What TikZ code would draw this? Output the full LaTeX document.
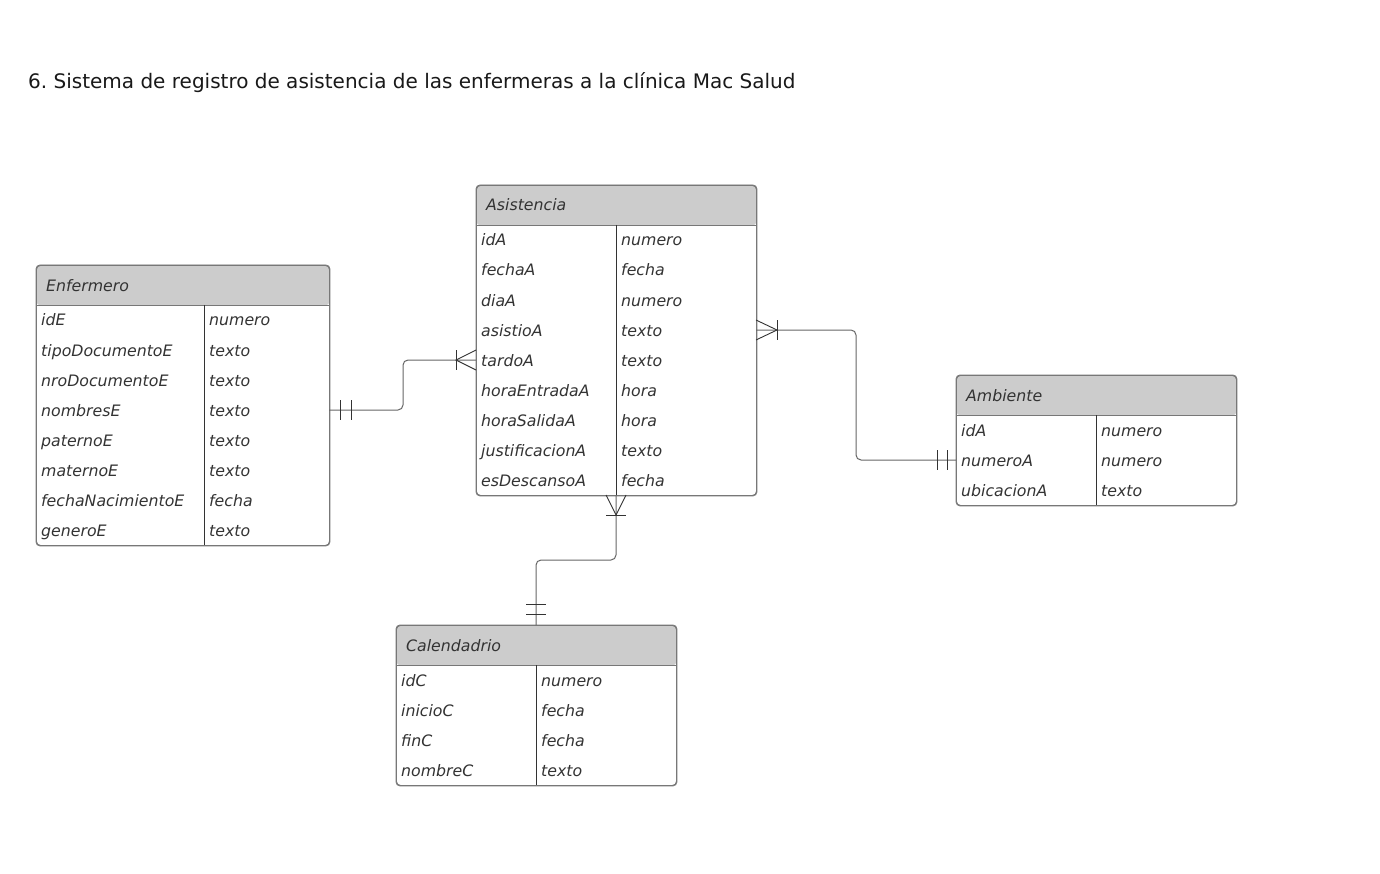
\documentclass[tikz,border=0pt]{standalone}
\usepackage{fontspec}
\setmainfont{DejaVu Sans}
\frenchspacing
\definecolor{bordc}{HTML}{777777}
\definecolor{divc}{HTML}{333333}
\definecolor{hdrc}{HTML}{CCCCCC}
\definecolor{txtc}{HTML}{333333}
\definecolor{connc}{HTML}{666666}
\definecolor{markc}{HTML}{333333}
\newcommand\ertable[8]{%
  \pgfmathsetmacro\tblh{40+30*#8}%
  \node[tbl, minimum width=#4pt, minimum height=\tblh pt,
    path picture={\fill[hdrc] (path picture bounding box.north west) rectangle ([yshift=-40pt]path picture bounding box.north east);}] (#1) at (#2,#3) {};
  \draw[bordc, line width=0.9pt] ([yshift=-40pt]#1.north west) -- ([yshift=-40pt]#1.north east);
  \draw[divc, line width=0.9pt] (#2+#5,#3+40) -- (#2+#5,#3+\tblh);
  \draw[tbl, fill=none] (#1.north west) rectangle (#1.south east);
  \node[hdrtxt] (#1-t) at (#2+10,#3+26) {#6};
  \foreach \f/\t [count=\i] in {#7} {
    \node[fld] (#1-f\i) at (#2+5,#3+31+30*\i) {\f};
    \node[fld] (#1-v\i) at (#2+#5+5,#3+31+30*\i) {\t};
  }%
}
\begin{document}
\begin{tikzpicture}[x=1pt,y=-1pt,
  tbl/.style={draw=bordc, line width=0.9pt, rounded corners=4pt, fill=white, inner sep=0pt, anchor=north west},
  hdrtxt/.style={anchor=base west, font=\fontsize{15.75}{19}\selectfont\itshape, text=txtc, inner sep=0pt},
  fld/.style={anchor=base west, font=\fontsize{15.75}{19}\selectfont\itshape, text=txtc, inner sep=0pt},
  conn/.style={draw=connc, line width=1pt, rounded corners=5pt},
  crow/.style={draw=markc, line width=0.9pt},
  titletxt/.style={anchor=base west, font=\fontsize{20}{24}\selectfont, text=black!90, inner sep=0pt}]
\useasboundingbox (0,0) rectangle (1380,874);
\fill[white] (0,0) rectangle (1380,874);
\node[titletxt] (title) at (28,89) {6. Sistema de registro de asistencia de las enfermeras a la clínica Mac Salud};

\ertable{enf}{36}{265}{293}{168}{Enfermero}{idE/numero,tipoDocumentoE/texto,nroDocumentoE/texto,nombresE/texto,paternoE/texto,maternoE/texto,fechaNacimientoE/fecha,generoE/texto}{8}
\ertable{asi}{476}{185}{280}{140}{Asistencia}{idA/numero,fechaA/fecha,diaA/numero,asistioA/texto,tardoA/texto,horaEntradaA/hora,horaSalidaA/hora,justificacionA/texto,esDescansoA/fecha}{9}
\ertable{amb}{956}{375}{280}{140}{Ambiente}{idA/numero,numeroA/numero,ubicacionA/texto}{3}
\ertable{cal}{396}{625}{280}{140}{Calendadrio}{idC/numero,inicioC/fecha,finC/fecha,nombreC/texto}{4}

% connection endpoints
\coordinate (e1) at (329,410);
\coordinate (a1) at (476,360);
\coordinate (a2) at (756,330);
\coordinate (m1) at (956,460);
\coordinate (a3) at (616,495);
\coordinate (c1) at (536,625);

\draw[conn] (e1) -- ++(74,0) |- (a1);
\draw[conn] (a2) -- ++(100,0) |- (m1);
\draw[conn] (a3) -- ++(0,65) -| (c1);

% Enfermero - Asistencia
\draw[crow] ([xshift=11pt,yshift=10pt]e1) -- ++(0,20);
\draw[crow] ([xshift=22pt,yshift=10pt]e1) -- ++(0,20);
\draw[crow] ([xshift=-20pt,yshift=10pt]a1) -- ++(0,20);
\draw[crow] ([yshift=10pt]a1) -- ([xshift=-20pt]a1) -- ([yshift=-10pt]a1);
% Asistencia - Ambiente
\draw[crow] ([xshift=21pt,yshift=10pt]a2) -- ++(0,20);
\draw[crow] ([yshift=10pt]a2) -- ([xshift=21pt]a2) -- ([yshift=-10pt]a2);
\draw[crow] ([xshift=-19pt,yshift=10pt]m1) -- ++(0,20);
\draw[crow] ([xshift=-9pt,yshift=10pt]m1) -- ++(0,20);
% Asistencia - Calendadrio
\draw[crow] ([xshift=-10pt,yshift=-20pt]a3) -- ++(20,0);
\draw[crow] ([xshift=-10pt]a3) -- ([yshift=-20pt]a3) -- ([xshift=10pt]a3);
\draw[crow] ([xshift=-10pt,yshift=21pt]c1) -- ++(20,0);
\draw[crow] ([xshift=-10pt,yshift=11pt]c1) -- ++(20,0);
\end{tikzpicture}
\end{document}
